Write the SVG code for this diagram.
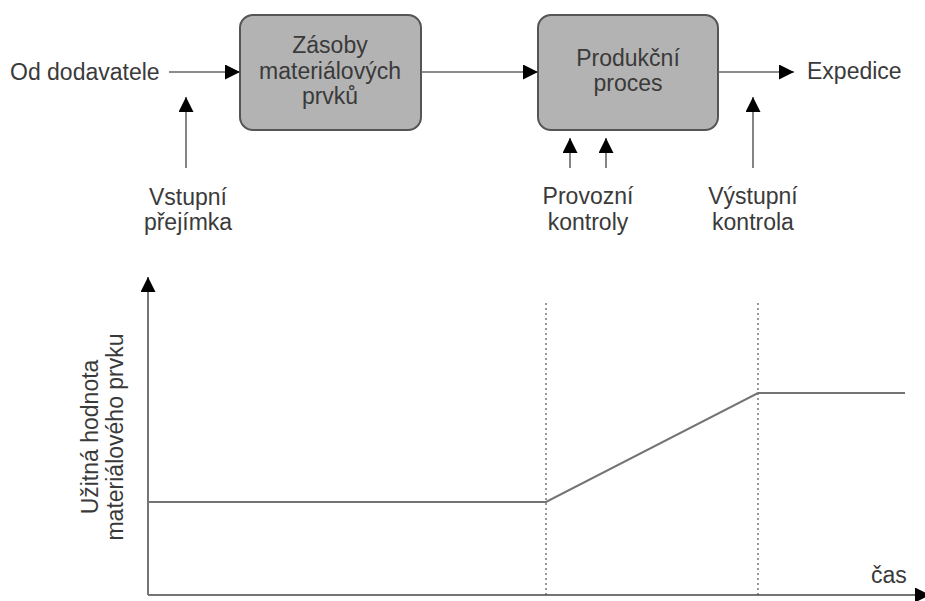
<svg xmlns="http://www.w3.org/2000/svg" width="925" height="601" viewBox="0 0 925 601">
  <style>
    text { font-family: "Liberation Sans", Arial, sans-serif; font-size: 23px; fill: #3a3a3a; }
    .mid { text-anchor: middle; }
    .box { fill: #b3b3b3; stroke: #555; stroke-width: 2; }
    .flow { stroke: #666; stroke-width: 1.6; fill: none; }
    .curve { stroke: #747474; stroke-width: 2; fill: none; }
    .dot { stroke: #555; stroke-width: 1.2; stroke-dasharray: 2 3; fill: none; }
  </style>
  <defs>
    <marker id="arr" viewBox="0 0 10 10" refX="10" refY="5" markerWidth="19" markerHeight="15" markerUnits="userSpaceOnUse" orient="auto">
      <path d="M0,0 L10,5 L0,10 Z" fill="#000"/>
    </marker>
  </defs>

  <rect width="925" height="601" fill="#fff"/>

  <!-- process nodes -->
  <g id="zasoby">
    <rect class="box" x="240" y="15" width="181" height="115" rx="13"/>
    <text class="mid" x="330" y="53">Zásoby</text>
    <text class="mid" x="330" y="79">materiálových</text>
    <text class="mid" x="330" y="104">prvků</text>
  </g>
  <g id="produkce">
    <rect class="box" x="538" y="15" width="180" height="115" rx="13"/>
    <text class="mid" x="628" y="66">Produkční</text>
    <text class="mid" x="628" y="91">proces</text>
  </g>

  <!-- labels -->
  <g id="od-dodavatele"><text x="10" y="80">Od dodavatele</text></g>
  <g id="expedice"><text x="807" y="79">Expedice</text></g>
  <g id="vstupni"><text class="mid" x="188" y="205">Vstupní</text><text class="mid" x="188" y="230">přejímka</text></g>
  <g id="provozni"><text class="mid" x="588" y="204">Provozní</text><text class="mid" x="588" y="230">kontroly</text></g>
  <g id="vystupni"><text class="mid" x="753" y="204">Výstupní</text><text class="mid" x="753" y="230">kontrola</text></g>

  <!-- connectors -->
  <g id="connectors">
    <line class="flow" x1="169" y1="72" x2="240" y2="72" marker-end="url(#arr)"/>
    <line class="flow" x1="421" y1="72" x2="538" y2="72" marker-end="url(#arr)"/>
    <line class="flow" x1="718" y1="72" x2="794" y2="72" marker-end="url(#arr)"/>
    <line class="flow" x1="186" y1="168" x2="186" y2="97" marker-end="url(#arr)"/>
    <line class="flow" x1="570" y1="168" x2="570" y2="138" marker-end="url(#arr)"/>
    <line class="flow" x1="606" y1="168" x2="606" y2="138" marker-end="url(#arr)"/>
    <line class="flow" x1="753" y1="168" x2="753" y2="97" marker-end="url(#arr)"/>
  </g>

  <!-- value over time chart -->
  <g id="chart">
    <line class="curve" x1="148" y1="595" x2="148" y2="277" marker-end="url(#arr)"/>
    <line class="curve" x1="148" y1="595" x2="930" y2="595" marker-end="url(#arr)"/>
    <line class="dot" x1="546" y1="303" x2="546" y2="595"/>
    <line class="dot" x1="758" y1="303" x2="758" y2="595"/>
    <polyline class="curve" points="148,502 546,502 758,393 905,393"/>
    <text x="871" y="583">čas</text>
    <g transform="translate(98,437) rotate(-90)">
      <text class="mid" x="0" y="0">Užitná hodnota</text>
      <text class="mid" x="0" y="25">materiálového prvku</text>
    </g>
  </g>
</svg>
